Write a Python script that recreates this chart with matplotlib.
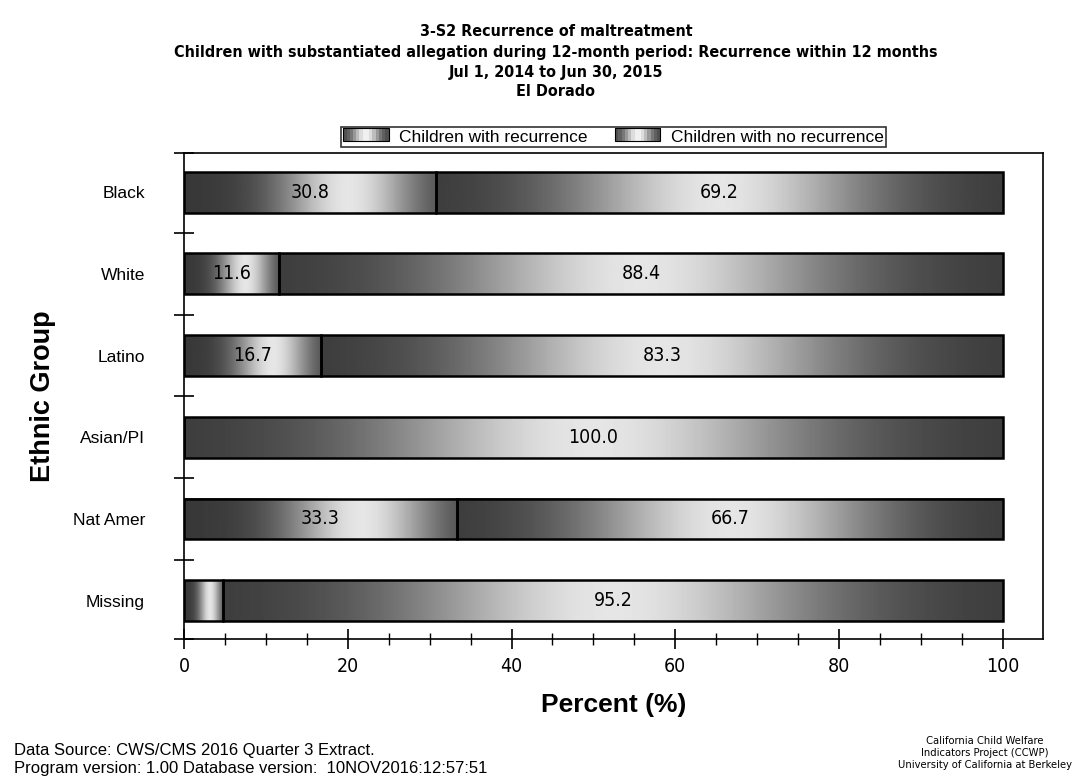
import numpy as np
import matplotlib
matplotlib.use("Agg")
import matplotlib.pyplot as plt
from matplotlib.patches import Rectangle
from matplotlib.legend_handler import HandlerBase
from matplotlib import font_manager as fm

# ---- data ----
categories = ["Black", "White", "Latino", "Asian/PI", "Nat Amer", "Missing"]
recurrence = [30.8, 11.6, 16.7, 0.0, 33.3, 4.8]
no_recurrence = [69.2, 88.4, 83.3, 100.0, 66.7, 95.2]
show_rec_label = [True, True, True, False, True, False]
series_names = ["Children with recurrence", "Children with no recurrence"]
x_ticks = [0, 20, 40, 60, 80, 100]
title_lines = ["3-S2 Recurrence of maltreatment",
               "Children with substantiated allegation during 12-month period: Recurrence within 12 months",
               "Jul 1, 2014 to Jun 30, 2015",
               "El Dorado"]

SANS = "Liberation Sans"
plt.rcParams["font.family"] = [SANS, "DejaVu Sans"]
has_cond = any(f.name == "DejaVu Sans" and f.stretch == "condensed" for f in fm.fontManager.ttflist)
if has_cond:
    COND = dict(family="DejaVu Sans", stretch="condensed")
else:
    COND = dict(family="Liberation Sans")

fig = plt.figure(figsize=(10.72, 7.79), dpi=100)
ax = fig.add_axes([184/1072, 1-639/779, 859/1072, 486/779])

y = np.arange(len(categories))
h = 0.5
bars1 = ax.barh(y, recurrence, height=h, left=0, facecolor="none", edgecolor="black", lw=1.8, zorder=3)
bars2 = ax.barh(y, no_recurrence, height=h, left=recurrence, facecolor="none", edgecolor="black", lw=1.8, zorder=3)

def grad(peak, n=256):
    t = np.linspace(0, 1, n)
    v = 0.22 + 0.68 * np.exp(-((t - peak) / 0.27) ** 2)
    return v[None, :]

for cont, peak in ((bars1, 0.65), (bars2, 0.5)):
    for p in cont.patches:
        x0, y0 = p.get_x(), p.get_y()
        w, hh = p.get_width(), p.get_height()
        if w <= 0:
            continue
        ax.imshow(grad(peak), extent=[x0, x0 + w, y0, y0 + hh], aspect="auto",
                  cmap="gray", vmin=0, vmax=1, interpolation="bilinear", zorder=2)

for i in range(len(categories)):
    if show_rec_label[i] and recurrence[i] > 0:
        ax.text(recurrence[i] / 2, y[i], f"{recurrence[i]:.1f}", ha="center", va="center",
                fontsize=14, zorder=4, **COND)
    ax.text(recurrence[i] + no_recurrence[i] / 2, y[i], f"{no_recurrence[i]:.1f}", ha="center",
            va="center", fontsize=14, zorder=4, **COND)

ax.set_xlim(0, 104.9)
ax.set_ylim(5.47, -0.48)

ax.set_xticks(x_ticks)
ax.set_xticklabels([str(v) for v in x_ticks], fontsize=14, **COND)
ax.set_xticks(np.arange(0, 101, 5), minor=True)
ax.tick_params(axis="x", which="major", direction="inout", length=14, width=1.2, pad=6)
ax.tick_params(axis="x", which="minor", direction="inout", length=8, width=1.0)

ax.set_yticks(list(y[:-1] + 0.5) + [-0.48, 5.47])
ax.set_yticklabels([])
ax.tick_params(axis="y", which="major", direction="inout", length=14, width=1.2)
ax.set_yticks(y, minor=True)
ax.set_yticklabels(categories, minor=True, fontsize=12.5)
ax.tick_params(axis="y", which="minor", length=0, pad=28)

for s in ax.spines.values():
    s.set_linewidth(1.2)

ax.set_xlabel("Percent (%)", fontsize=19, fontweight="bold", labelpad=12)
ax.set_ylabel("Ethnic Group", fontsize=19.5, fontweight="bold", labelpad=12)

# legend with gradient swatches
class GradHandler(HandlerBase):
    def create_artists(self, legend, orig_handle, xdescent, ydescent, width, height, fontsize, trans):
        arts = []
        n = 14
        t = (np.arange(n) + 0.5) / n
        v = 0.25 + 0.7 * np.exp(-((t - 0.5) / 0.3) ** 2)
        for k in range(n):
            r = Rectangle((xdescent + k * width / n, ydescent), width / n + 0.2, height,
                          facecolor=str(v[k]), edgecolor="none", transform=trans)
            arts.append(r)
        arts.append(Rectangle((xdescent, ydescent), width, height, facecolor="none",
                              edgecolor="black", lw=0.8, transform=trans))
        return arts

h1 = Rectangle((0, 0), 1, 1)
h2 = Rectangle((0, 0), 1, 1)
leg = ax.legend([h1, h2], series_names, handler_map={Rectangle: GradHandler()},
                loc="lower center", bbox_to_anchor=(0.5, 1.012), ncol=2, frameon=True,
                fancybox=False, edgecolor="black", fontsize=12.5, handlelength=2.6,
                handleheight=0.8, borderpad=0.12, columnspacing=1.6, handletextpad=0.6,
                borderaxespad=0)
leg.get_frame().set_linewidth(1.2)

# titles
ty = [32, 52, 73, 92]
for line, yy in zip(title_lines, ty):
    fig.text(556 / 1072, 1 - yy / 779, line, ha="center", va="center", fontsize=11.5,
             fontweight="bold", **COND)

fig.text(14 / 1072, 1 - 751 / 779, "Data Source: CWS/CMS 2016 Quarter 3 Extract.", fontsize=12,
         va="center", ha="left")
fig.text(14 / 1072, 1 - 768 / 779, "Program version: 1.00 Database version:  10NOV2016:12:57:51",
         fontsize=12, va="center", ha="left")
for line, yy in zip(["California Child Welfare", "Indicators Project (CCWP)",
                     "University of California at Berkeley"], [741, 753, 765]):
    fig.text(985 / 1072, 1 - yy / 779, line, fontsize=8, ha="center", va="center", **COND)

fig.savefig("out.png", dpi=100)
